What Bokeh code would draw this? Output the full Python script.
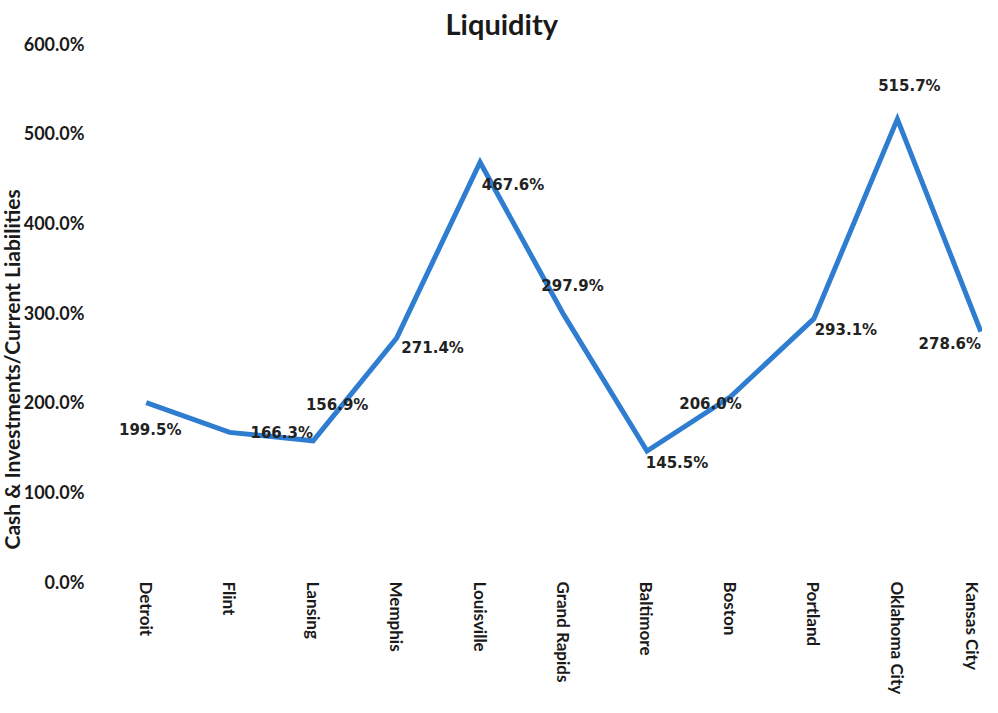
import math
from bokeh.plotting import figure
from bokeh.models import (Range1d, FixedTicker, PrintfTickFormatter, Title, ColumnDataSource)
from bokeh.core.properties import value
from bokeh.embed import file_html
from bokeh.resources import INLINE

cities = ["Detroit", "Flint", "Lansing", "Memphis", "Louisville", "Grand Rapids",
          "Baltimore", "Boston", "Portland", "Oklahoma City", "Kansas City"]
liquidity = [199.5, 166.3, 156.9, 271.4, 467.6, 297.9, 145.5, 206.0, 293.1, 515.7, 278.6]
y_ticks = [0, 100, 200, 300, 400, 500, 600]

# label placement (screen px offsets), styling only
label_dx = [4, 52, 24, 36, 33, 9, 30, -20, 32, 12, -31]
label_dy = [27, 1, -36, 10, 23, -28, 12, 7, 11, -33, 12]

xs = list(range(len(cities)))
src = ColumnDataSource(dict(
    x=xs, y=liquidity,
    txt=[f"{v:.1f}%" for v in liquidity],
    dx=label_dx, dy=label_dy,
))

p = figure(width=982, height=697, output_backend="svg", toolbar_location=None,
           x_range=Range1d(-0.5, 10.02), y_range=Range1d(0, 600),
           min_border_left=0, min_border_right=0, min_border_top=36, min_border_bottom=0)

p.title.text = "Liquidity"
p.title.align = "left"
p.title.offset = 341
p.title.standoff = 6
p.title.text_font = "Lato"
p.title.text_font_size = "29px"
p.title.text_font_style = "bold"
p.title.text_color = "#1a1a1a"

p.add_layout(Title(text="Cash & Investments/Current Liabilities", align="left", offset=32,
                   standoff=-7, text_font="Lato", text_font_style="bold", text_font_size="21px",
                   text_color="#1a1a1a"), "left")

p.line("x", "y", source=src, line_color="#2E7DD1", line_width=5, line_join="miter")
p.text("x", "y", text="txt", source=src, x_offset="dx", y_offset="dy",
       text_align="center", text_baseline="middle",
       text_font=value("DejaVu Sans"), text_font_style="bold",
       text_font_size="15px", text_color="#222222")

p.xgrid.visible = False
p.ygrid.visible = False
p.outline_line_color = None

xa = p.xaxis[0]
xa.ticker = FixedTicker(ticks=xs)
xa.major_label_overrides = {i: c for i, c in enumerate(cities)}
xa.major_label_orientation = -math.pi / 2
xa.axis_line_color = None
xa.major_tick_line_color = None
xa.minor_tick_line_color = None
xa.major_tick_out = 0
xa.major_tick_in = 0
xa.minor_tick_out = 0
xa.major_label_standoff = 0
xa.major_label_text_font = "Lato"
xa.major_label_text_font_style = "bold"
xa.major_label_text_font_size = "17px"
xa.major_label_text_color = "#1a1a1a"

ya = p.yaxis[0]
ya.ticker = FixedTicker(ticks=y_ticks)
ya.formatter = PrintfTickFormatter(format="%.1f%%")
ya.axis_line_color = None
ya.major_tick_line_color = None
ya.minor_tick_line_color = None
ya.major_tick_out = 0
ya.major_tick_in = 0
ya.minor_tick_out = 0
ya.major_label_standoff = 20
ya.major_label_text_font = "Lato"
ya.major_label_text_font_style = "bold"
ya.major_label_text_font_size = "18px"
ya.major_label_text_color = "#1a1a1a"

open("out.html", "w").write(file_html(p, INLINE))
